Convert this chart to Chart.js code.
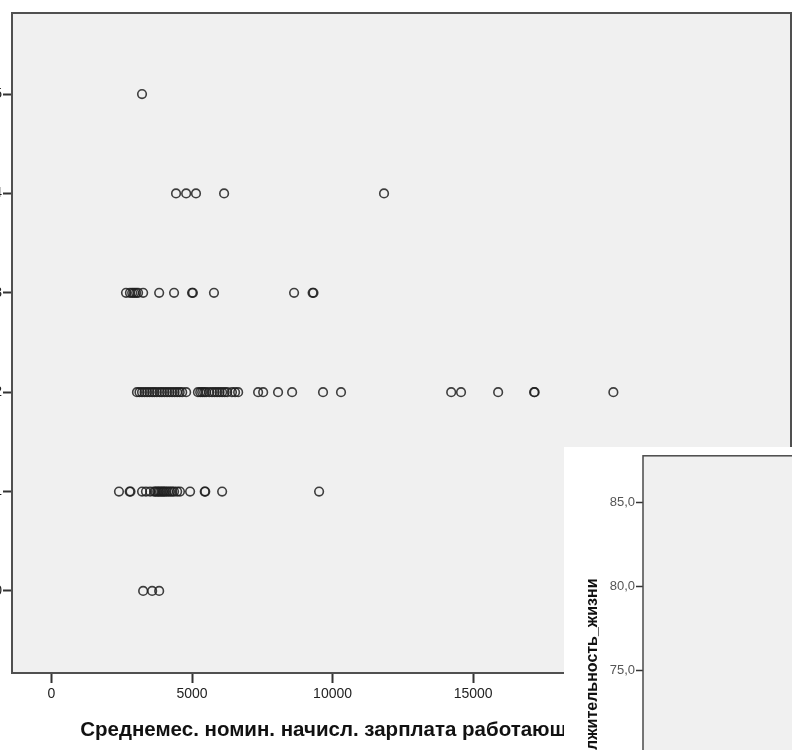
<!DOCTYPE html>
<html>
<head>
<meta charset="utf-8">
<script src="https://cdn.jsdelivr.net/npm/chart.js@4.4.0/dist/chart.umd.min.js"></script>
<style>
    html, body { margin: 0; padding: 0; background: #fff; overflow: hidden; width: 792px; height: 750px; }
    #mainChart { position: absolute; left: -40px; top: 0; }
    #lifeChart { position: absolute; left: 564px; top: 447px; background: #fff; }
</style>
</head>
<body>
<canvas id="mainChart" width="840" height="750"></canvas>
<canvas id="lifeChart" width="300" height="500"></canvas>
<script>
// Data: salary (x) for each y level
const yLevels = [5, 4, 3, 2, 1, 0];
const salaryLevel5 = [3220];
const salaryLevel4 = [4430, 4790, 5140, 6140, 11830];
const salaryLevel3 = [2650, 2790, 2870, 2940, 3010, 3080, 3260, 3830, 4360, 5000, 5030, 5780, 8630, 9290, 9320];
const salaryLevel2 = [3040, 3130, 3220, 3310, 3400, 3490, 3580, 3660, 3750, 3850, 3930, 4020, 4110, 4200, 4290, 4380,
    4470, 4560, 4650, 4790, 5210, 5290, 5360, 5430, 5500, 5610, 5710, 5800, 5890, 5980, 6070, 6160, 6250, 6420,
    6530, 6640, 7350, 7530, 8060, 8560, 9660, 10300, 14220, 14570, 15890, 17170, 17190, 19990];
const salaryLevel1 = [2400, 2780, 2810, 3220, 3360, 3510, 3650, 3700, 3760, 3810, 3860, 3920, 3970, 4020, 4080,
    4150, 4220, 4290, 4360, 4470, 4570, 4930, 5450, 5470, 6070, 9520];
const salaryLevel0 = [3260, 3580, 3830];
const salaryByLevel = [salaryLevel5, salaryLevel4, salaryLevel3, salaryLevel2, salaryLevel1, salaryLevel0];

const xTicks = [0, 5000, 10000, 15000, 20000, 25000];
const yTicks = [0, 1, 2, 3, 4, 5];

// second (overlapping) chart: axis only, no marks in view
const lifeTicks = [65, 70, 75, 80, 85];
const lifeValues = [];

const xTitle = 'Среднемес. номин. начисл. зарплата работающих в экономике';
const lifeTitle = 'Продолжительность_жизни';

// Gray plot background and frame like SPSS
const plotFrame = {
    id: 'plotFrame',
    beforeDraw(chart, args, opts) {
        const a = chart.chartArea;
        const ctx = chart.ctx;
        ctx.save();
        ctx.fillStyle = opts.background;
        ctx.fillRect(a.left, a.top, a.right - a.left, a.bottom - a.top);
        ctx.restore();
    },
    afterDraw(chart, args, opts) {
        const a = chart.chartArea;
        const ctx = chart.ctx;
        ctx.save();
        ctx.strokeStyle = opts.color;
        ctx.lineWidth = opts.width;
        ctx.strokeRect(a.left, a.top, a.right - a.left, a.bottom - a.top);
        ctx.restore();
    }
};

function buildDatasets() {
    return yLevels.map((level, i) => ({
        data: salaryByLevel[i].map(v => ({ x: v, y: level })),
        pointStyle: 'circle',
        pointRadius: 4.3,
        pointBorderWidth: 1.6,
        pointBorderColor: 'rgba(30,30,30,0.85)',
        pointBackgroundColor: 'rgba(0,0,0,0)',
        showLine: false
    }));
}

const mainChart = new Chart(document.getElementById('mainChart'), {
    type: 'scatter',
    data: { datasets: buildDatasets() },
    options: {
        responsive: false,
        animation: false,
        layout: { padding: { top: 13, right: 9, left: 0, bottom: 0 } },
        plugins: {
            legend: { display: false },
            tooltip: { enabled: false },
            plotFrame: { background: '#f0f0f0', color: '#505050', width: 2 }
        },
        scales: {
            x: {
                type: 'linear',
                min: -1406,
                max: 26310,
                afterBuildTicks: s => { s.ticks = xTicks.map(v => ({ value: v })); },
                afterFit: s => { s.height = 77; },
                grid: { drawOnChartArea: false, drawTicks: true, tickLength: 10, tickWidth: 2, tickColor: '#333' },
                border: { display: false },
                ticks: {
                    padding: 3,
                    color: '#222',
                    font: { family: 'Liberation Sans', size: 14 },
                    maxRotation: 0,
                    autoSkip: false,
                    callback: v => String(v)
                },
                title: {
                    display: true,
                    text: xTitle,
                    color: '#111',
                    font: { family: 'Liberation Sans', size: 20.5, weight: 'bold' },
                    padding: { top: 0, bottom: 7 }
                }
            },
            y: {
                type: 'linear',
                min: -0.826,
                max: 5.816,
                afterBuildTicks: s => { s.ticks = yTicks.map(v => ({ value: v })); },
                afterFit: s => { s.width = 52; },
                grid: { drawOnChartArea: false, drawTicks: true, tickLength: 9, tickWidth: 2, tickColor: '#333' },
                border: { display: false },
                ticks: {
                    padding: 1,
                    color: '#222',
                    font: { family: 'Liberation Sans', size: 14 },
                    autoSkip: false
                }
            }
        }
    },
    plugins: [plotFrame]
});

const lifeChart = new Chart(document.getElementById('lifeChart'), {
    type: 'scatter',
    data: {
        datasets: [{
            data: lifeValues,
            pointRadius: 4,
            pointBorderColor: '#333',
            pointBackgroundColor: 'rgba(0,0,0,0)'
        }]
    },
    options: {
        responsive: false,
        animation: false,
        layout: { padding: { top: 7, right: 0, left: 0, bottom: 24 } },
        plugins: {
            legend: { display: false },
            tooltip: { enabled: false },
            plotFrame: { background: '#f0f0f0', color: '#4a4a4a', width: 1.5 }
        },
        scales: {
            x: { type: 'linear', display: false, min: 0, max: 1 },
            y: {
                type: 'linear',
                min: 60,
                max: 87.8,
                afterBuildTicks: s => { s.ticks = lifeTicks.map(v => ({ value: v })); },
                afterFit: s => { s.width = 79; },
                grid: { drawOnChartArea: false, drawTicks: true, tickLength: 7, tickWidth: 1.5, tickColor: '#333' },
                border: { display: false },
                ticks: {
                    padding: 1,
                    color: '#555',
                    font: { family: 'Liberation Sans', size: 13 },
                    autoSkip: false,
                    callback: v => v.toFixed(1).replace('.', ',')
                },
                title: {
                    display: true,
                    text: lifeTitle,
                    color: '#111',
                    font: { family: 'Liberation Sans', size: 16, weight: 'bold' },
                    padding: { top: 19, bottom: 0 }
                }
            }
        }
    },
    plugins: [plotFrame]
});
</script>
</body>
</html>
